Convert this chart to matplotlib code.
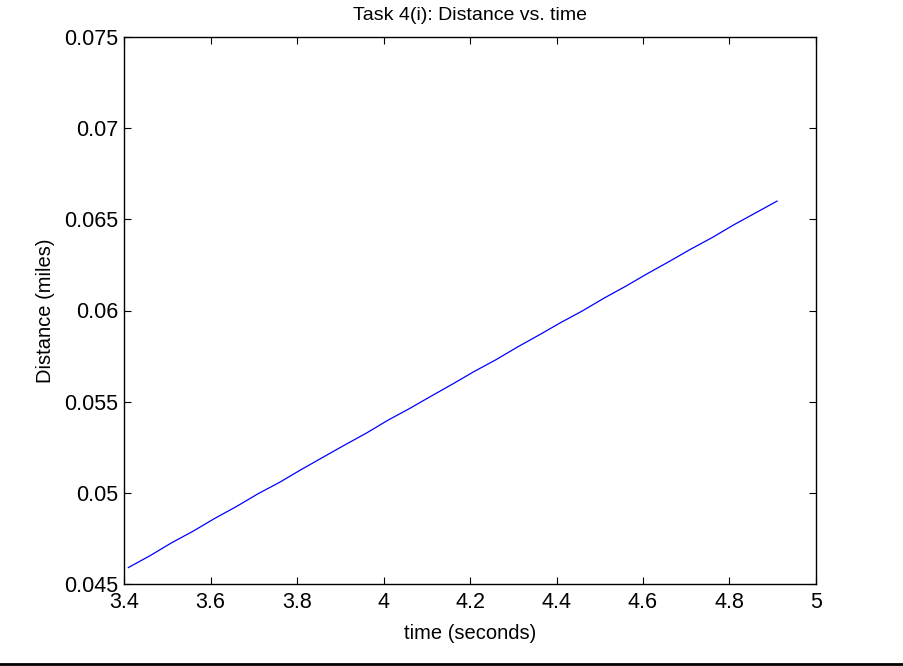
import matplotlib
matplotlib.use("Agg")
import matplotlib.pyplot as plt
from matplotlib.lines import Line2D

# Elapsed time (s) and distance covered (miles)
time_s = [3.41, 3.46, 3.51, 3.56, 3.61, 3.66, 3.71, 3.76, 3.81, 3.86, 3.91,
          3.96, 4.01, 4.06, 4.11, 4.16, 4.21, 4.26, 4.31, 4.36, 4.41, 4.46,
          4.51, 4.56, 4.61, 4.66, 4.71, 4.76, 4.81, 4.86, 4.91]
distance_mi = [0.04590, 0.04655, 0.04726, 0.04790, 0.04860, 0.04925, 0.04995,
               0.05058, 0.05128, 0.05195, 0.05262, 0.05327, 0.05398, 0.05462,
               0.05530, 0.05597, 0.05666, 0.05730, 0.05800, 0.05866, 0.05934,
               0.05998, 0.06068, 0.06133, 0.06202, 0.06268, 0.06336, 0.06400,
               0.06470, 0.06535, 0.06600]

x_ticks = [3.4, 3.6, 3.8, 4.0, 4.2, 4.4, 4.6, 4.8, 5.0]
x_labels = ["3.4", "3.6", "3.8", "4", "4.2", "4.4", "4.6", "4.8", "5"]
y_ticks = [0.045, 0.05, 0.055, 0.06, 0.065, 0.07, 0.075]
y_labels = ["0.045", "0.05", "0.055", "0.06", "0.065", "0.07", "0.075"]

plt.rcParams["font.family"] = ["Liberation Sans", "DejaVu Sans"]
plt.rcParams["font.size"] = 14

W, H = 904, 666
fig = plt.figure(figsize=(W / 100, H / 100), dpi=100)
ax = fig.add_axes([124 / W, (H - 584) / H, (816 - 124) / W, (584 - 37) / H])

ax.plot(time_s, distance_mi, color=(0, 0, 1), linewidth=0.9)

ax.set_xlim(3.4, 5.0)
ax.set_ylim(0.045, 0.075)
ax.set_xticks(x_ticks)
ax.set_xticklabels(x_labels)
ax.set_yticks(y_ticks)
ax.set_yticklabels(y_labels)
ax.tick_params(direction="in", length=5, width=0.8, top=True, right=True,
               labelsize=15.5)
ax.tick_params(axis="x", pad=6)
ax.tick_params(axis="y", pad=4)
for sp in ax.spines.values():
    sp.set_linewidth(1.0)

ax.set_title("Task 4(i): Distance vs. time", fontsize=14, pad=12)
ax.set_xlabel("time (seconds)", fontsize=14.5, labelpad=8)
ax.set_ylabel("Distance (miles)", fontsize=14.5, labelpad=7)

# rule along the bottom edge of the figure
fig.add_artist(Line2D([0, 1], [2.5 / H, 2.5 / H], transform=fig.transFigure,
                      color="black", linewidth=2))

fig.savefig("out.png", dpi=100)
